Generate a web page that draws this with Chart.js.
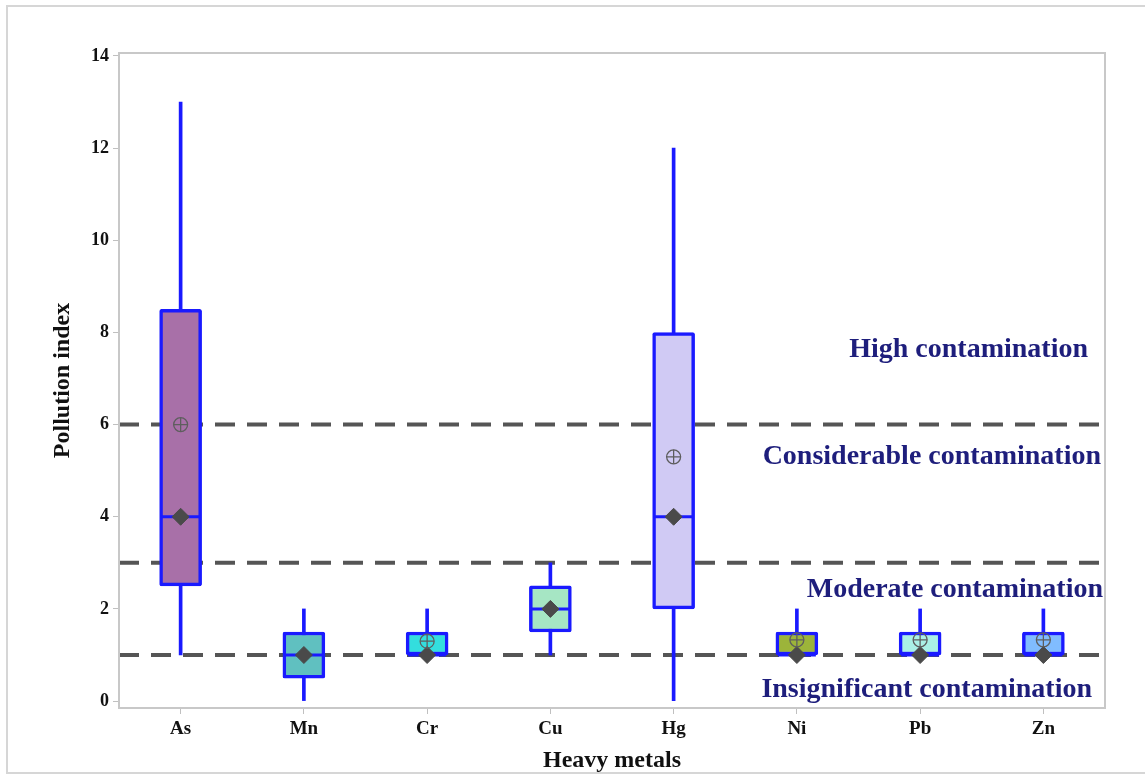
<!DOCTYPE html>
<html>
<head>
<meta charset="utf-8">
<script src="https://cdn.jsdelivr.net/npm/chart.js@4"></script>
<style>
  html, body { margin: 0; padding: 0; background: #fff; }
</style>
</head>
<body>
<canvas id="chart" width="1145" height="775"></canvas>
<script>
// values
const metals = ['As', 'Mn', 'Cr', 'Cu', 'Hg', 'Ni', 'Pb', 'Zn'];
const whiskerLow = [1, 0, 1, 1, 0, 1, 1, 1];
const whiskerHigh = [13, 2, 2, 3, 12, 2, 2, 2];
const q1 = [2.5, 0.5, 1, 1.5, 2, 1, 1, 1];
const q3 = [8.5, 1.5, 1.5, 2.5, 8, 1.5, 1.5, 1.5];
const medians = [4, 1, 1, 2, 4, 1, 1, 1];
const means = [6, null, 1.3, null, 5.3, 1.33, 1.33, 1.33];
const yTicks = [0, 2, 4, 6, 8, 10, 12, 14];
const thresholds = [1, 3, 6];
const zoneLabels = ['High contamination', 'Considerable contamination', 'Moderate contamination', 'Insignificant contamination'];
const zoneLabelY = [7.62, 5.3, 2.41, 0.24];

const boxColors = ['#a870a8', '#60c0c0', '#33dede', '#a6e6c4', '#d0caf4', '#9cb43a', '#aaf0e6', '#80bcff'];
const blue = '#1a1aff';
const serif = '"Liberation Serif", "DejaVu Serif", serif';

// whole-width dashed lines go on a hidden 0..1 axis
const lineSets = thresholds.map(t => ({
    type: 'line',
    xAxisID: 'xLine',
    data: [{x: 0, y: t}, {x: 1, y: t}],
    borderColor: '#555555',
    borderWidth: 4,
    borderDash: [20, 12],
    pointRadius: 0,
    order: 10
}));

const framePlugin = {
    id: 'frame',
    beforeDraw(chart) {
        const ctx = chart.ctx;
        ctx.save();
        ctx.fillStyle = '#fff';
        ctx.fillRect(0, 0, chart.width, chart.height);
        ctx.strokeStyle = '#d6d6d6';
        ctx.lineWidth = 2;
        ctx.beginPath();
        ctx.moveTo(chart.width, 6);
        ctx.lineTo(7, 6);
        ctx.lineTo(7, 773);
        ctx.lineTo(chart.width, 773);
        ctx.stroke();
        ctx.restore();
    },
    afterDraw(chart) {
        const {ctx, chartArea} = chart;
        ctx.save();
        ctx.strokeStyle = '#c8c8c8';
        ctx.lineWidth = 2;
        ctx.strokeRect(chartArea.left, chartArea.top, chartArea.right - chartArea.left, chartArea.bottom - chartArea.top);
        ctx.restore();
    }
};

const zoneInset = [17, 4, 2, 13];
const zonePlugin = {
    id: 'zones',
    afterDatasetsDraw(chart) {
        const {ctx, chartArea, scales} = chart;
        ctx.save();
        ctx.font = 'bold 28px ' + serif;
        ctx.fillStyle = '#1e1e7c';
        ctx.textAlign = 'right';
        ctx.textBaseline = 'middle';
        zoneLabels.forEach((t, i) => {
            ctx.fillText(t, chartArea.right - zoneInset[i], scales.y.getPixelForValue(zoneLabelY[i]));
        });
        ctx.restore();
    }
};

new Chart(document.getElementById('chart'), {
    type: 'bar',
    data: {
        labels: metals,
        datasets: [
            ...lineSets,
            {   // whiskers
                data: metals.map((m, i) => [whiskerLow[i], whiskerHigh[i]]),
                backgroundColor: blue,
                borderWidth: 0,
                barThickness: 3,
                grouped: false,
                order: 5
            },
            {   // boxes
                data: metals.map((m, i) => [q1[i], q3[i]]),
                backgroundColor: boxColors,
                borderColor: blue,
                borderWidth: 3.5,
                borderSkipped: false,
                borderRadius: 2,
                barThickness: 42,
                grouped: false,
                order: 4
            },
            {   // median line
                type: 'line',
                data: medians,
                showLine: false,
                pointStyle: 'line',
                pointRadius: 19,
                pointBorderColor: blue,
                pointBorderWidth: 3,
                order: 3
            },
            {   // median diamond
                type: 'line',
                data: medians,
                showLine: false,
                pointStyle: 'rectRot',
                pointRadius: 8.5,
                pointBackgroundColor: '#4a4a4a',
                pointBorderColor: '#4a4a4a',
                order: 2
            },
            {   // mean circle
                type: 'line',
                data: means,
                showLine: false,
                pointStyle: 'circle',
                pointRadius: 7,
                pointBackgroundColor: 'rgba(0,0,0,0)',
                pointBorderColor: '#5e5e5e',
                pointBorderWidth: 1.3,
                order: 1
            },
            {   // mean cross
                type: 'line',
                data: means,
                showLine: false,
                pointStyle: 'cross',
                pointRadius: 7,
                pointBorderColor: '#5e5e5e',
                pointBorderWidth: 1.3,
                order: 0
            }
        ]
    },
    options: {
        responsive: false,
        animation: false,
        events: [],
        layout: {padding: {left: 0, top: 53, right: 40, bottom: 0}},
        plugins: {legend: {display: false}, tooltip: {enabled: false}},
        scales: {
            x: {
                type: 'category',
                offset: true,
                grid: {drawOnChartArea: false, tickLength: 6, color: '#c0c0c0', offset: false},
                border: {color: '#c8c8c8', width: 2},
                ticks: {font: {family: serif, weight: 'bold', size: 19}, color: '#111', padding: 4},
                title: {display: true, text: 'Heavy metals', color: '#111',
                        font: {family: serif, weight: 'bold', size: 24}, padding: {top: 0, bottom: 0}},
                afterFit(s) { s.height = 67; }
            },
            xLine: {type: 'linear', min: 0, max: 1, offset: false, display: false},
            y: {
                min: -0.15,
                max: 14.065,
                afterBuildTicks(s) { s.ticks = yTicks.map(v => ({value: v})); },
                grid: {drawOnChartArea: false, tickLength: 6, color: '#c0c0c0'},
                border: {color: '#c8c8c8', width: 2},
                ticks: {font: {family: serif, weight: 'bold', size: 18}, color: '#111', padding: 4},
                title: {display: true, text: 'Pollution index', color: '#111',
                        font: {family: serif, weight: 'bold', size: 24}, padding: {top: 48, bottom: 0}},
                afterFit(s) { s.width = 119; }
            }
        }
    },
    plugins: [framePlugin, zonePlugin]
});
</script>
</body>
</html>
